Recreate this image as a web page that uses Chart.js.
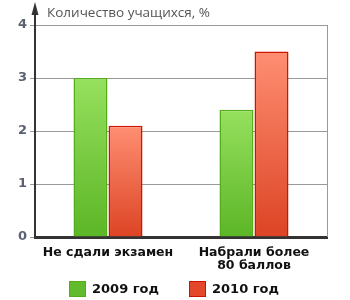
<!DOCTYPE html>
<html><head><meta charset="utf-8">
<script src="https://cdn.jsdelivr.net/npm/chart.js@4"></script>
<style>html,body{margin:0;padding:0;background:#fff}#wrap{width:350px;height:300px}</style>
</head><body><div id="wrap"><canvas id="c" width="350" height="300"></canvas></div>
<script>
const categories = [["Не сдали экзамен"], ["Набрали более", "80 баллов"]];
const series2009 = [3.0, 2.4];
const series2010 = [2.1, 3.5];
const seriesNames = ["2009 год", "2010 год"];
const yTicks = [0, 1, 2, 3, 4];
const axisTitle = "Количество учащихся, %";

function grad(c, top, bottom) {
  const ch = c.chart, a = ch.chartArea, ys = ch.scales && ch.scales.y;
  if (!a || !ys || c.raw === undefined) return bottom;
  const t = ys.getPixelForValue(c.raw), b = ys.getPixelForValue(0);
  const g = ch.ctx.createLinearGradient(0, t, 0, b);
  g.addColorStop(0, top); g.addColorStop(1, bottom);
  return g;
}

const legendItems = [
  { text: seriesNames[0], fill: '#62bb2c', stroke: '#52ad18', x: 69 },
  { text: seriesNames[1], fill: '#e4482a', stroke: '#cc1500', x: 189 }
];

const decor = {
  id: 'decor',
  afterDraw(chart) {
    const ctx = chart.ctx, a = chart.chartArea;
    ctx.save();
    ctx.strokeStyle = '#999'; ctx.lineWidth = 1;
    ctx.beginPath(); ctx.moveTo(a.right + 0.5, a.top); ctx.lineTo(a.right + 0.5, a.bottom); ctx.stroke();
    ctx.strokeStyle = '#333'; ctx.lineWidth = 2;
    ctx.beginPath(); ctx.moveTo(a.left, a.top); ctx.lineTo(a.left, 10); ctx.stroke();
    ctx.fillStyle = '#333';
    ctx.beginPath(); ctx.moveTo(a.left, 2); ctx.lineTo(a.left - 3.5, 15); ctx.lineTo(a.left + 3.5, 15); ctx.closePath(); ctx.fill();
    ctx.fillStyle = '#555';
    ctx.font = '13.5px "Open Sans", "DejaVu Sans", sans-serif';
    ctx.textBaseline = 'middle';
    ctx.textAlign = 'left';
    ctx.fillText(axisTitle, 47, 13);
    ctx.font = 'bold 13px "DejaVu Sans", sans-serif';
    legendItems.forEach(it => {
      ctx.fillStyle = it.fill; ctx.strokeStyle = it.stroke; ctx.lineWidth = 1;
      ctx.fillRect(it.x, 281, 17, 16);
      ctx.strokeRect(it.x + 0.5, 281.5, 16, 15);
      ctx.fillStyle = '#111';
      ctx.fillText(it.text, it.x + 23, 289.5);
    });
    ctx.restore();
  }
};

new Chart(document.getElementById('c'), {
  type: 'bar',
  data: {
    labels: categories,
    datasets: [
      { label: seriesNames[0], data: series2009,
        backgroundColor: c => grad(c, '#96e05e', '#5cb626'), borderColor: '#52ad18', borderWidth: 1.5 },
      { label: seriesNames[1], data: series2010,
        backgroundColor: c => grad(c, '#ff8e72', '#dc4424'), borderColor: '#cc1500', borderWidth: 1.5 }
    ]
  },
  plugins: [decor],
  options: {
    responsive: false,
    animation: false,
    devicePixelRatio: 1,
    categoryPercentage: 0.48,
    barPercentage: 0.97,
    layout: { padding: { left: 0, right: 23, top: 25, bottom: 25 } },
    plugins: {
      tooltip: { enabled: false },
      legend: { display: false }
    },
    scales: {
      x: {
        grid: { display: false, drawTicks: false },
        border: { color: '#333', width: 3 },
        ticks: {
          color: '#111', padding: 9, maxRotation: 0,
          font: { family: '"DejaVu Sans", sans-serif', size: 12.5, weight: 'bold', lineHeight: 1.05 }
        },
        afterFit(s) { s.height = 38; }
      },
      y: {
        min: 0, max: 4,
        afterBuildTicks(s) { s.ticks = yTicks.map(v => ({ value: v })); },
        grid: { color: '#999', tickColor: '#999', tickLength: 5, lineWidth: 1 },
        border: { color: '#333', width: 2 },
        ticks: {
          color: '#5b6170', padding: 3,
          font: { family: '"DejaVu Sans", sans-serif', size: 13, weight: 'bold' }
        },
        afterFit(s) { s.width = 35; }
      }
    }
  }
});
</script></body></html>
